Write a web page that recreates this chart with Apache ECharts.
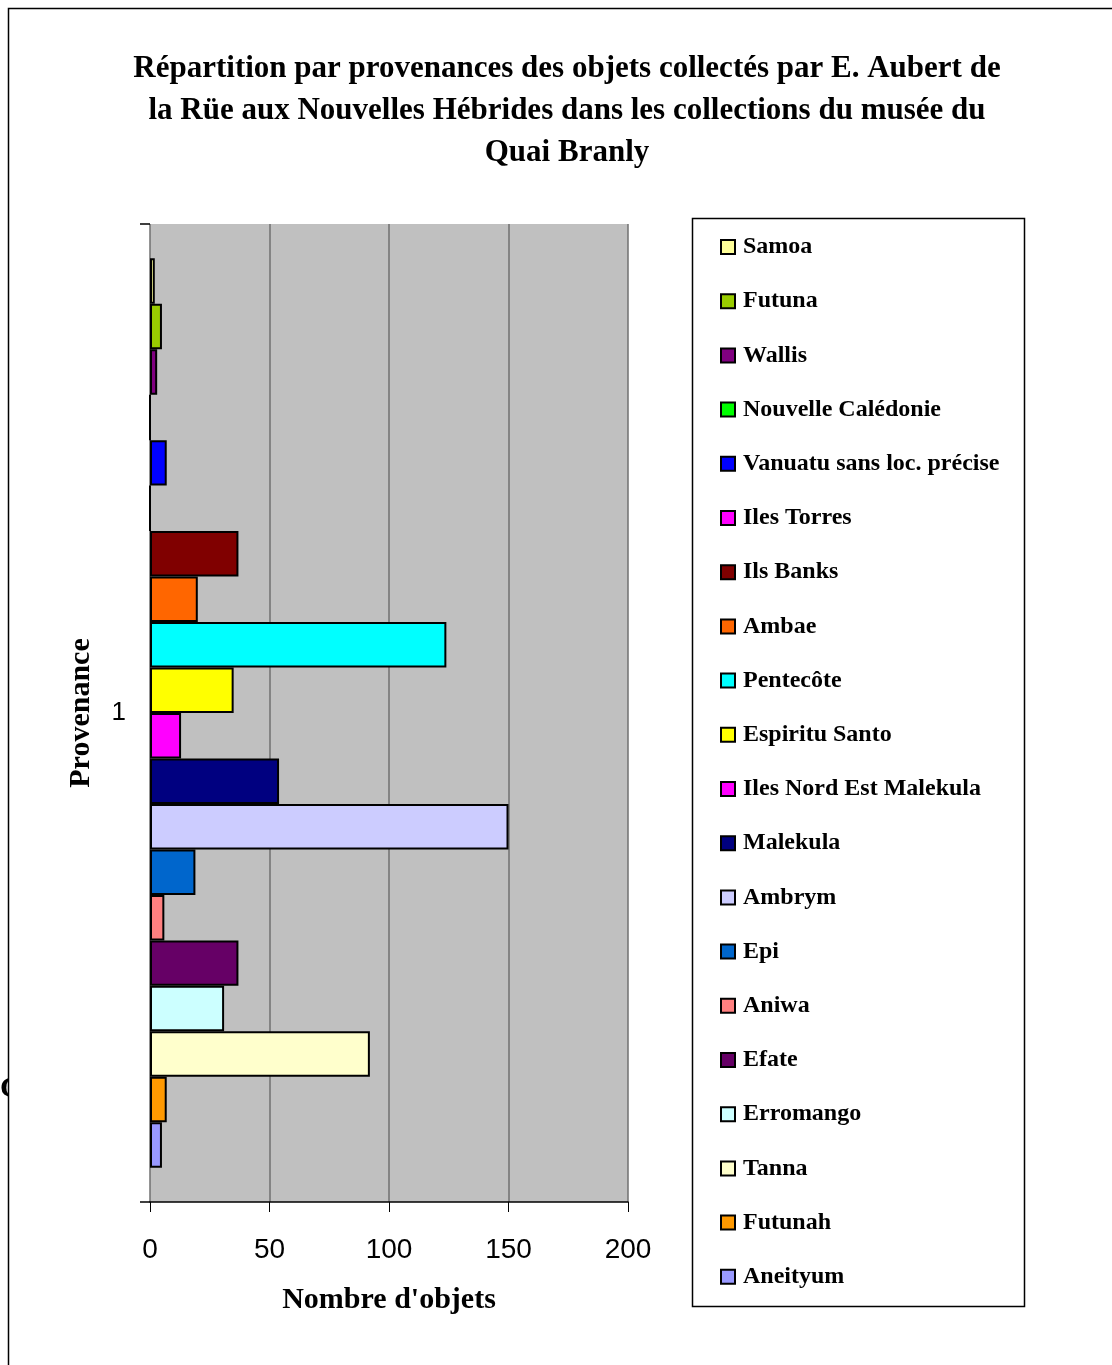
<!DOCTYPE html>
<html>
<head>
<meta charset="utf-8">
<script src="https://cdn.jsdelivr.net/npm/echarts@6/dist/echarts.min.js"></script>
<style>
  html, body { margin: 0; padding: 0; background: #fff; }
  #main { width: 1112px; height: 1365px; }
</style>
</head>
<body>
<div id="main"></div>
<script>
var categories = ['1'];
var provenances = ['Samoa', 'Futuna', 'Wallis', 'Nouvelle Calédonie', 'Vanuatu sans loc. précise',
    'Iles Torres', 'Ils Banks', 'Ambae', 'Pentecôte', 'Espiritu Santo', 'Iles Nord Est Malekula',
    'Malekula', 'Ambrym', 'Epi', 'Aniwa', 'Efate', 'Erromango', 'Tanna', 'Futunah', 'Aneityum'];
var counts = [2, 5, 3, 0, 7, 0, 37, 20, 124, 35, 13, 54, 150, 19, 6, 37, 31, 92, 7, 5];
var colors = ['#FFFF99', '#99CC00', '#800080', '#00FF00', '#0000FF', '#FF00FF', '#800000', '#FF6600',
    '#00FFFF', '#FFFF00', '#FF00FF', '#000080', '#CCCCFF', '#0066CC', '#FF8080', '#660066',
    '#CCFFFF', '#FFFFCC', '#FF9900', '#9999FF'];
var xTicks = [0, 50, 100, 150, 200];

var chart = echarts.init(document.getElementById('main'));

var serif = '"Liberation Serif", "Times New Roman", serif';
var sans = '"Liberation Sans", Arial, sans-serif';

var series = provenances.map(function (name, i) {
    return {
        name: name,
        type: 'bar',
        barGap: 0,
        barCategoryGap: '7%',
        itemStyle: { color: colors[i], borderColor: '#000', borderWidth: 2 },
        data: [counts[i]]
    };
});

var option = {
    animation: false,
    backgroundColor: '#fff',
    title: {
        text: 'Répartition par provenances des objets collectés par E. Aubert de\nla Rüe aux Nouvelles Hébrides dans les collections du musée du\nQuai Branly',
        left: 562,
        top: 43,
        textAlign: 'center',
        textStyle: { fontFamily: serif, fontWeight: 'bold', fontSize: 31, lineHeight: 42, color: '#000' }
    },
    legend: {
        orient: 'vertical',
        left: 720,
        top: 235,
        padding: 0,
        itemWidth: 14,
        itemHeight: 14,
        itemGap: 30.2,
        icon: 'rect',
        itemStyle: { borderColor: '#000', borderWidth: 2 },
        textStyle: { fontFamily: serif, fontWeight: 'bold', fontSize: 24, lineHeight: 24, color: '#000', padding: [0, 0, 0, 3] },
        data: provenances
    },
    grid: { left: 150, right: 484, top: 224, bottom: 163, show: true, backgroundColor: '#C0C0C0', borderWidth: 0 },
    xAxis: {
        type: 'value',
        min: 0,
        max: 200,
        interval: 50,
        name: "Nombre d'objets",
        nameLocation: 'middle',
        nameGap: 83,
        nameTextStyle: { fontFamily: serif, fontWeight: 'bold', fontSize: 30, color: '#000' },
        axisLine: { show: true, lineStyle: { color: '#000', width: 1.5 } },
        axisTick: { show: true, length: 10, lineStyle: { color: '#000', width: 1 } },
        axisLabel: {
            margin: 34, fontFamily: sans, fontSize: 28, color: '#000',
            formatter: function (v) { return xTicks.indexOf(v) >= 0 ? String(v) : ''; }
        },
        splitLine: { show: true, lineStyle: { color: '#707070', width: 1.5 } }
    },
    yAxis: {
        type: 'category',
        data: categories,
        name: 'Provenance',
        nameLocation: 'middle',
        nameRotate: 90,
        nameGap: 54,
        nameTextStyle: { fontFamily: serif, fontWeight: 'bold', fontSize: 30, color: '#000' },
        axisLine: { show: false },
        axisTick: { show: true, length: 10, lineStyle: { color: '#000', width: 1.5 } },
        axisLabel: { margin: 24, fontFamily: sans, fontSize: 26, color: '#000' }
    },
    graphic: [
        { type: 'text', x: 0, y: 1074, z: 1, style: { text: 'C', font: 'bold 30px ' + serif, fill: '#000' } },
        { type: 'rect', shape: { x: 9, y: 1060, width: 30, height: 60 }, z: 2, style: { fill: '#fff' } },
        { type: 'rect', shape: { x: 8.5, y: 8.5, width: 1200, height: 1400 }, z: 3, style: { fill: 'none', stroke: '#000', lineWidth: 1.5 } },
        { type: 'rect', shape: { x: 692.5, y: 218.5, width: 332, height: 1088 }, z: 3, style: { fill: 'none', stroke: '#000', lineWidth: 1.5 } }
    ],
    series: series
};

chart.setOption(option);
window.addEventListener('resize', function () {
    chart.resize();
});
</script>
</body>
</html>
